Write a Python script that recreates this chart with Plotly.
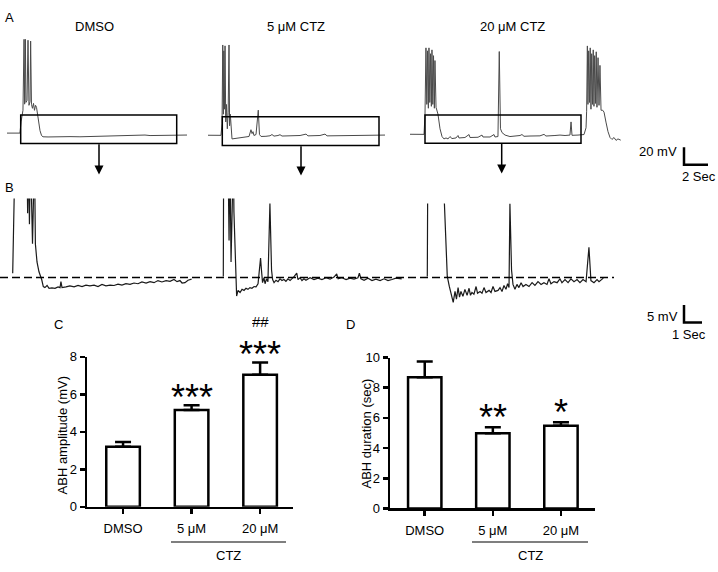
import plotly.graph_objects as go

W, H = 718, 572

# ---------------- bar chart data (panels C and D) ----------------
groups = ["DMSO", "5 μM", "20 μM"]
amp_mean = [3.2, 5.16, 7.05]
amp_sem = [0.26, 0.26, 0.65]
amp_sig = ["", "***", "***"]
amp_sig2 = ["", "", "##"]
dur_mean = [8.69, 4.99, 5.48]
dur_sem = [1.05, 0.39, 0.24]
dur_sig = ["", "**", "*"]

# ---------------- voltage traces (time s, voltage mV rel. to baseline) ----------------
# Panel A (overview)
a_dmso = [(0, 0), (0.58, -0.3), (1.08, 0), (1.17, 12.8), (1.25, 21.7), (1.33, 26), (1.42, 107), (1.47, 33),
          (1.53, 107), (1.58, 35), (1.67, 37.2), (1.75, 106), (1.83, 31.7), (1.92, 36), (1.97, 105),
          (2.04, 32.8), (2.12, 28.3), (2.21, 33.9), (2.29, 26), (2.38, 31.7), (2.46, 29.4), (2.54, 20.6),
          (2.62, 10.6), (2.75, 2.8), (2.88, -2.8), (3.0, -4.2), (3.42, -4.4), (4.0, -4.1), (4.58, -4.3),
          (5.25, -4.0), (6.08, -4.2), (6.92, -3.8), (7.75, -3.7), (8.58, -3.4), (9.42, -3.2), (10.25, -3.0),
          (11.08, -2.6), (11.5, -2.2), (11.92, -2.8), (12.75, -2.6), (13.17, -3.0), (13.75, -2.2),
          (14.42, -2.6), (15.0, -2.2)]
a_ctz5 = [(0, 0), (0.58, 0.2), (1.08, -0.1), (1.17, 13), (1.23, 103), (1.28, 24), (1.32, 96.3), (1.38, 29.7),
          (1.42, 102), (1.48, 15.2), (1.54, 35.1), (1.61, 7.4), (1.68, 26.3), (1.75, 103), (1.8, 10.8),
          (1.86, 24), (1.92, 4.1), (2.0, -4.2), (2.25, -3.7), (2.67, -3.1), (3.08, -2.6), (3.42, -1.4),
          (3.58, 6.3), (3.67, 1.9), (3.75, 4.1), (3.83, -0.3), (4.0, 0.8), (4.19, 28.6), (4.29, 0.8),
          (4.42, -1.4), (4.83, -1.2), (5.17, -0.6), (5.33, 0.8), (5.5, -1.0), (5.83, -0.3), (6.0, 0.6),
          (6.17, -0.9), (6.83, -0.6), (7.67, -0.3), (8.17, 1.3), (8.33, -0.7), (9.33, -0.3), (9.75, 1.3),
          (9.92, -0.7), (11.0, -0.6), (11.83, -0.3), (12.67, -0.7), (13.5, -0.1), (14.17, -0.3), (14.75, 0.2)]
a_ctz20 = [(0, 0), (0.67, 0.2), (1.17, -0.1), (1.25, 23), (1.33, 98.6), (1.4, 34.1), (1.46, 95.2), (1.53, 29.7),
           (1.58, 98.6), (1.65, 36.3), (1.71, 91.9), (1.78, 31.9), (1.83, 96.3), (1.9, 34.1), (1.96, 89.7),
           (2.03, 29.7), (2.08, 84.1), (2.17, 30.8), (2.25, 27.4), (2.33, 23), (2.5, 6.3), (2.67, -2.6),
           (2.83, -5.3), (3.0, -4.2), (3.17, -5.3), (3.33, -2.6), (3.5, -4.9), (3.83, -4.2), (4.0, -1.4),
           (4.08, -4.2), (4.58, -3.7), (4.92, -0.3), (5.0, -3.7), (5.67, -3.4), (6.0, -0.9), (6.08, -3.1),
           (6.67, -3.1), (7.0, -0.3), (7.08, -3.1), (7.33, -2.6), (7.44, 94.4), (7.54, 6.3), (7.67, 1.9),
           (7.92, -0.9), (8.33, -2.6), (8.75, -2.3), (9.17, -1.4), (9.33, -0.3), (9.5, -2.3), (10.0, -2.0),
           (10.83, -1.8), (11.17, -0.1), (11.33, -2.0), (12.08, -1.4), (12.5, -0.9), (12.92, -1.4),
           (13.33, -0.9), (13.42, 14.1), (13.5, -1.2), (14.0, -0.9), (14.5, -0.3), (14.67, 7.4), (14.72, 26.3),
           (14.78, 100.8), (14.83, 34.1), (14.89, 95.2), (14.96, 36.3), (15.02, 98.6), (15.08, 28.6),
           (15.14, 91.9), (15.21, 34.1), (15.27, 96.3), (15.33, 31.9), (15.39, 89.7), (15.46, 35.2),
           (15.52, 94.1), (15.58, 30.8), (15.67, 87.4), (15.75, 33), (15.83, 78.6), (15.92, 27.4),
           (16.06, 27.4), (16.17, 25.2), (16.33, 13.9), (16.5, 3.0), (16.67, -3.7), (16.83, -5.9),
           (17.0, -3.7), (17.17, -7.0), (17.33, -5.3), (17.56, -6.7)]

# Panel B (expanded view of boxed regions)
b_dmso = [(0, 1.22), (0.13, 35.5), (0.79, 35.5), (0.83, 18.3), (0.88, 35.5), (0.93, 15.2), (0.99, 35.5),
          (1.1, 9.6), (1.16, 35.5), (1.21, 35.5), (1.26, 9.6), (1.35, 4.4), (1.46, 1.6), (1.61, -0.6),
          (1.7, -2.6), (1.79, -2.9), (1.91, -2.3), (2.02, -3.1), (2.18, -3.0), (2.35, -3.1), (2.52, -2.7),
          (2.63, -2.9), (2.68, -1.2), (2.74, -2.9), (2.96, -2.7), (3.18, -2.4), (3.41, -2.7), (3.63, -2.3),
          (3.85, -2.6), (4.07, -2.2), (4.29, -2.4), (4.52, -2.2), (4.74, -2.6), (4.96, -2.0), (5.18, -2.4),
          (5.41, -2.2), (5.63, -2.3), (5.85, -1.9), (6.07, -2.2), (6.29, -1.8), (6.52, -2.0), (6.74, -1.6),
          (6.96, -1.8), (7.18, -1.3), (7.41, -1.6), (7.63, -1.2), (7.85, -1.5), (8.07, -0.9), (8.29, -1.3),
          (8.52, -0.9), (8.74, -1.1), (8.96, -0.6), (9.13, -1.2), (9.29, -0.9), (9.41, -1.6), (9.57, -1.5),
          (9.74, -0.8), (9.94, -0.5)]
b_ctz5 = [(0, 0.28), (0.02, 35.5), (0.26, 35.5), (0.32, 10.5), (0.37, 35.5), (0.43, 4.4), (0.48, 35.5),
          (0.56, 35.5), (0.59, 18.8), (0.74, -5.3), (0.82, -3.7), (0.93, -4.3), (1.04, -3.4), (1.15, -3.7),
          (1.26, -3.1), (1.37, -3.4), (1.48, -2.9), (1.59, -3.1), (1.71, -2.6), (1.82, -2.7), (1.93, -1.8),
          (1.98, 0.75), (2.04, 3.5), (2.07, 5.5), (2.12, 2.1), (2.18, -1.5), (2.26, -0.1), (2.32, -1.8),
          (2.4, -0.4), (2.48, -1.2), (2.59, 21.1), (2.68, 2.1), (2.74, -0.6), (2.82, -1.5), (2.93, -0.8),
          (3.04, -1.2), (3.15, -0.4), (3.26, -0.9), (3.37, -0.6), (3.48, -1.1), (3.59, -0.4), (3.71, -0.9),
          (3.93, 0.2), (4.08, 1.2), (4.15, -0.6), (4.26, -0.1), (4.37, -0.9), (4.48, -0.4), (4.59, -0.8),
          (4.82, -0.1), (5.04, -0.6), (5.26, -0.2), (5.48, -0.6), (5.71, -0.1), (5.93, -0.5), (6.15, 0.1),
          (6.3, 1.0), (6.38, -0.4), (6.59, -0.1), (6.82, -0.6), (7.04, -0.2), (7.26, -0.5), (7.48, -0.1),
          (7.56, 1.2), (7.65, -0.4), (7.82, -0.8), (8.04, -0.2), (8.26, -0.9), (8.48, -0.5), (8.71, -0.9),
          (8.93, -0.4), (9.15, -0.9), (9.37, -0.6), (9.59, -0.2), (9.91, -0.4)]
b_ctz20 = [(0, 0.28), (0.03, 35.5), (0.84, 35.5), (1.11, 0.28), (1.22, -2.5), (1.32, -4.8), (1.44, -7.1),
           (1.54, -4.0), (1.62, -6.2), (1.71, -2.9), (1.79, -5.6), (1.87, -4.0), (1.98, -5.4), (2.09, -3.4),
           (2.21, -5.1), (2.32, -3.1), (2.4, -5.1), (2.48, -4.3), (2.59, -4.8), (2.71, -2.6), (2.79, -4.5),
           (2.93, -4.0), (3.04, -4.5), (3.15, -2.9), (3.26, -4.3), (3.43, -3.7), (3.54, -4.3), (3.65, -2.6),
           (3.76, -4.0), (3.93, -3.7), (4.04, -2.9), (4.15, -4.0), (4.26, -2.3), (4.37, -3.4), (4.46, -1.8),
           (4.54, -2.9), (4.59, 21.1), (4.68, 2.1), (4.76, -2.0), (4.87, -3.4), (4.98, -2.0), (5.09, -2.9),
           (5.21, -1.5), (5.32, -2.6), (5.48, -2.0), (5.65, -2.6), (5.82, -1.5), (5.98, -2.3), (6.15, -1.2),
           (6.32, -2.0), (6.48, -1.5), (6.65, -2.0), (6.76, -0.4), (6.87, -1.8), (7.04, -1.2), (7.21, -1.5),
           (7.37, -0.4), (7.48, -1.5), (7.65, -0.6), (7.82, -1.5), (7.98, -0.4), (8.15, -1.2), (8.32, -0.6),
           (8.48, -1.5), (8.65, -0.6), (8.82, -1.2), (8.98, 8.6), (9.09, -0.9), (9.26, -1.5), (9.43, -0.6),
           (9.54, -1.2), (9.78, -0.2)]

trace_titles = ["DMSO", "5 μM CTZ", "20 μM CTZ"]
scale_a = (2, 20)   # Sec, mV
scale_b = (1, 5)

# ---------------- layout helpers (pixel placement) ----------------
FONT = "Arial, Liberation Sans, sans-serif"


def xdom(x0, x1, ox=None, sx=None):
    d = dict(domain=[x0 / W, x1 / W])
    if sx is not None:
        d["range"] = [(x0 - ox) / sx, (x1 - ox) / sx]
    return d


def ydom(y0, y1, oy=None, sy=None):
    d = dict(domain=[1 - y1 / H, 1 - y0 / H])
    if sy is not None:
        d["range"] = [(oy - y1) / sy, (oy - y0) / sy]
    return d


hidden = dict(visible=False, showgrid=False, zeroline=False, fixedrange=True)

fig = go.Figure()
layout = dict(width=W, height=H, margin=dict(l=0, r=0, t=0, b=0, pad=0), paper_bgcolor="white",
              plot_bgcolor="rgba(0,0,0,0)", showlegend=False, font=dict(family=FONT, size=13, color="black"))

# A panels: 12 px/s, 0.9 px/mV
SAX, SAY = 12.0, 0.9
a_specs = [(a_dmso, (5, 190), (7, 129.5)), (a_ctz5, (205, 390), (208, 131.7)), (a_ctz20, (405, 625), (410, 130.7))]
# B panels: 18 px/s, 3.6 px/mV
SBX, SBY = 18.0, 3.6
b_specs = [(b_dmso, (5, 205), 12.7, 196.7), (b_ctz5, (215, 410), 223.3, 196.7), (b_ctz20, (420, 615), 427.3, 201.7)]
B_BASE = 277.7

axn = 3
for data, (x0, x1), (ox, oy) in a_specs:
    layout[f"xaxis{axn}"] = dict(**xdom(x0, x1, ox, SAX), **hidden, anchor=f"y{axn}")
    layout[f"yaxis{axn}"] = dict(**ydom(30, 145, oy, SAY), **hidden, anchor=f"x{axn}")
    fig.add_trace(go.Scatter(x=[p[0] for p in data], y=[p[1] for p in data], mode="lines",
                             line=dict(color="#4a4a4a", width=1), xaxis=f"x{axn}", yaxis=f"y{axn}",
                             hoverinfo="skip"))
    axn += 1
for data, (x0, x1), ox, ytop in b_specs:
    layout[f"xaxis{axn}"] = dict(**xdom(x0, x1, ox, SBX), **hidden, anchor=f"y{axn}")
    layout[f"yaxis{axn}"] = dict(**ydom(ytop, 312, B_BASE, SBY), **hidden, anchor=f"x{axn}")
    fig.add_trace(go.Scatter(x=[p[0] for p in data], y=[p[1] for p in data], mode="lines",
                             line=dict(color="#1a1a1a", width=1.2), xaxis=f"x{axn}", yaxis=f"y{axn}",
                             hoverinfo="skip"))
    axn += 1

# scale bars (own axes with same px/unit scales)
sa = axn
layout[f"xaxis{sa}"] = dict(**xdom(678, 716, 684, SAX), **hidden, anchor=f"y{sa}")
layout[f"yaxis{sa}"] = dict(**ydom(138, 168, 162, SAY), **hidden, anchor=f"x{sa}")
fig.add_trace(go.Scatter(x=[0, 0, scale_a[0]], y=[scale_a[1], 0, 0], mode="lines",
                         line=dict(color="black", width=2.5), xaxis=f"x{sa}", yaxis=f"y{sa}", hoverinfo="skip"))
sb = axn + 1
layout[f"xaxis{sb}"] = dict(**xdom(678, 716, 684, SBX), **hidden, anchor=f"y{sb}")
layout[f"yaxis{sb}"] = dict(**ydom(300, 330, 324, SBY), **hidden, anchor=f"x{sb}")
fig.add_trace(go.Scatter(x=[0, 0, scale_b[0]], y=[scale_b[1], 0, 0], mode="lines",
                         line=dict(color="black", width=2.5), xaxis=f"x{sb}", yaxis=f"y{sb}", hoverinfo="skip"))

# ---------------- bar charts ----------------
bar_axis_common = dict(showline=True, linecolor="black", linewidth=2.5, ticks="outside", ticklen=5,
                       tickwidth=2.5, tickcolor="black", showgrid=False, zeroline=False, fixedrange=True,
                       tickfont=dict(family=FONT, size=13, color="black"))

layout["xaxis"] = dict(**xdom(87, 293), range=[-0.526, 2.48], anchor="y", type="category", **bar_axis_common,
                       ticklabelstandoff=3)
layout["yaxis"] = dict(**ydom(359.3, 513.3), range=[0, 8], anchor="x", dtick=2, **bar_axis_common)
layout["xaxis2"] = dict(**xdom(390, 595), range=[-0.51, 2.5], anchor="y2", type="category", **bar_axis_common,
                        ticklabelstandoff=3)
layout["yaxis2"] = dict(**ydom(360, 515), range=[0, 10], anchor="x2", dtick=2, **bar_axis_common)

for xa, ya, means, sems in [("x", "y", amp_mean, amp_sem), ("x2", "y2", dur_mean, dur_sem)]:
    fig.add_trace(go.Bar(x=groups, y=means, width=0.49, xaxis=xa, yaxis=ya,
                         marker=dict(color="white", line=dict(color="black", width=2.5)),
                         error_y=dict(type="data", symmetric=False, array=sems, arrayminus=[0] * len(sems),
                                      color="black", thickness=2.5, width=8),
                         hoverinfo="skip"))

annotations = []
shapes = []


def paper_text(text, x, y, size=13, **kw):
    annotations.append(dict(text=text, x=x / W, y=1 - y / H, xref="paper", yref="paper", showarrow=False,
                            font=dict(family=FONT, size=size, color="black"), xanchor="center",
                            yanchor="middle", **kw))


# significance markers (pixel offsets above the error-bar cap)
for xa, ya, means, sems, sig, shift in [("x", "y", amp_mean, amp_sem, amp_sig, 8.5),
                                        ("x2", "y2", dur_mean, dur_sem, dur_sig, 10)]:
    for g, m, s, t in zip(groups, means, sems, sig):
        if t:
            annotations.append(dict(text=t, x=g, y=m + s, xref=xa, yref=ya, showarrow=False,
                                    xanchor="center", yanchor="middle", yshift=shift, height=26,
                                    font=dict(family=FONT, size=36, color="black")))
for g, m, s, t in zip(groups, amp_mean, amp_sem, amp_sig2):
    if t:
        annotations.append(dict(text=t, x=g, y=m + s, xref="x", yref="y", showarrow=False,
                                xanchor="center", yanchor="middle", yshift=41, height=15,
                                font=dict(family=FONT, size=15, color="black")))

# panel letters and titles
paper_text("A", 9, 11)
paper_text("B", 9, 185)
paper_text("C", 59, 326)
paper_text("D", 350, 326)
for t, xc in zip(trace_titles, [94, 296, 512]):
    paper_text(t, xc, 20)

# scale bar labels
paper_text(f"{scale_a[1]} mV", 658, 148)
paper_text(f"{scale_a[0]} Sec", 699, 174)
paper_text(f"{scale_b[1]} mV", 662, 318)
paper_text(f"{scale_b[0]} Sec", 689, 336)

# y axis titles
paper_text("ABH amplitude (mV)", 62, 440, textangle=-90)
paper_text("ABH duration (sec)", 367, 438, textangle=-90)

# CTZ group labels
for x0, x1 in [(171, 286), (472, 588)]:
    shapes.append(dict(type="line", xref="paper", yref="paper", x0=x0 / W, x1=x1 / W, y0=1 - 549.3 / H,
                       y1=1 - 549.3 / H, line=dict(color="#555555", width=1.5)))
    paper_text("CTZ", (x0 + x1) / 2, 563)

# boxes in A
for x0, x1, y0, y1 in [(20.7, 176.7, 111, 140.3), (222.3, 379, 112.7, 142.3), (425, 581, 111, 140)]:
    shapes.append(dict(type="rect", xref="paper", yref="paper", x0=x0 / W, x1=x1 / W, y0=1 - y1 / H,
                       y1=1 - y0 / H, line=dict(color="black", width=1.5), fillcolor="rgba(0,0,0,0)"))
# arrows
for x, y0, y1 in [(99, 140.3, 172), (301, 142.3, 173), (501.7, 140, 171)]:
    annotations.append(dict(text="", x=x / W, y=1 - y1 / H, xref="paper", yref="paper", ax=0, ay=-(y1 - y0),
                            showarrow=True, arrowhead=2, arrowsize=1.2, arrowwidth=1.5, arrowcolor="black",
                            standoff=0))

# dashed baseline in B
shapes.append(dict(type="line", xref="paper", yref="y6", x0=0, x1=614 / W, y0=0, y1=0,
                   line=dict(color="black", width=1.5, dash="8px,4px")))

layout["annotations"] = annotations
layout["shapes"] = shapes
fig.update_layout(**layout)

post = ("var s=document.documentElement.style;s.margin='0';s.padding='0';s.overflow='hidden';"
        "var b=document.body.style;b.margin='0';b.padding='0';b.overflow='hidden';")
fig.write_html("out.html", config={"displayModeBar": False, "staticPlot": True}, post_script=post)
